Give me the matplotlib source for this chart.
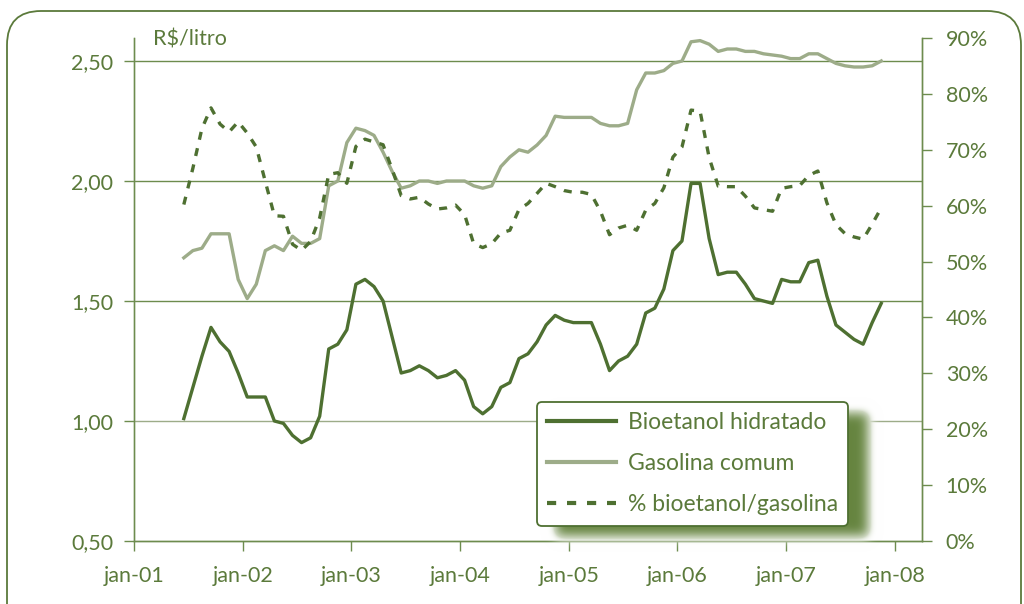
import numpy as np
import pandas as pd
import matplotlib
matplotlib.use('Agg')
import matplotlib.pyplot as plt
from matplotlib.patches import FancyBboxPatch
from matplotlib.lines import Line2D
from matplotlib.transforms import IdentityTransform

# precos medios mensais ao consumidor (R$/litro), jun-01 a nov-07
meses = pd.date_range('2001-06-01', periods=78, freq='MS')

bioetanol = [1.01, 1.14, 1.27, 1.39, 1.33, 1.29, 1.20, 1.10, 1.10, 1.10,
             1.00, 0.99, 0.94, 0.91, 0.93, 1.02, 1.30, 1.32, 1.38, 1.57,
             1.59, 1.56, 1.50, 1.35, 1.20, 1.21, 1.23, 1.21, 1.18, 1.19,
             1.21, 1.17, 1.06, 1.03, 1.06, 1.14, 1.16, 1.26, 1.28, 1.33,
             1.40, 1.44, 1.42, 1.41, 1.41, 1.41, 1.32, 1.21, 1.25, 1.27,
             1.32, 1.45, 1.47, 1.55, 1.71, 1.75, 1.99, 1.99, 1.76, 1.61,
             1.62, 1.62, 1.57, 1.51, 1.50, 1.49, 1.59, 1.58, 1.58, 1.66,
             1.67, 1.52, 1.40, 1.37, 1.34, 1.32, 1.41, 1.49]

gasolina = [1.68, 1.71, 1.72, 1.78, 1.78, 1.78, 1.59, 1.51, 1.57, 1.71,
            1.73, 1.71, 1.77, 1.74, 1.74, 1.76, 1.98, 2.00, 2.16, 2.22,
            2.21, 2.19, 2.12, 2.04, 1.97, 1.98, 2.00, 2.00, 1.99, 2.00,
            2.00, 2.00, 1.98, 1.97, 1.98, 2.06, 2.10, 2.13, 2.12, 2.15,
            2.19, 2.27, 2.265, 2.265, 2.265, 2.265, 2.24, 2.23, 2.23, 2.24,
            2.38, 2.45, 2.45, 2.46, 2.49, 2.50, 2.58, 2.585, 2.57, 2.54,
            2.55, 2.55, 2.54, 2.54, 2.53, 2.525, 2.52, 2.51, 2.51, 2.53,
            2.53, 2.51, 2.49, 2.48, 2.475, 2.475, 2.48, 2.50]

# relacao bioetanol/gasolina (%)
relacao = [60.2, 66.7, 73.8, 77.5, 74.6, 73.2, 75.0, 73.0, 70.5, 64.3,
           58.2, 58.1, 53.1, 52.0, 53.6, 57.8, 65.6, 65.9, 64.0, 70.6,
           71.9, 71.4, 70.9, 66.5, 61.8, 61.2, 61.5, 60.3, 59.4, 59.6,
           60.1, 58.4, 53.2, 52.5, 53.2, 55.1, 55.6, 59.3, 60.4, 62.2,
           64.0, 63.4, 62.7, 62.4, 62.4, 62.0, 59.0, 54.8, 56.0, 56.5,
           55.6, 59.2, 60.4, 63.2, 68.7, 70.5, 77.1, 76.9, 68.6, 63.5,
           63.4, 63.4, 61.7, 59.6, 59.3, 59.0, 63.1, 63.4, 63.6, 65.4,
           66.2, 60.5, 56.6, 55.0, 54.4, 54.0, 56.7, 59.6]

anos = ['jan-01', 'jan-02', 'jan-03', 'jan-04', 'jan-05', 'jan-06', 'jan-07', 'jan-08']
ticks_preco = [0.5, 1.0, 1.5, 2.0, 2.5]
rotulos_preco = ['0,50', '1,00', '1,50', '2,00', '2,50']
ticks_pct = list(range(0, 100, 10))

verde = '#4e7031'
verde_claro = '#9dac89'
verde_txt = '#5b7a3b'
verde_grade = '#6d8c4e'

plt.rcParams['font.family'] = ['Lato', 'DejaVu Sans']
plt.rcParams['font.size'] = 15.5

x = (meses.year - 2001) * 12 + meses.month - 1 + 0.5

fig = plt.figure(figsize=(10.24, 6.04), dpi=100)
ax = fig.add_axes([134 / 1024, 63 / 604, 788 / 1024, 503 / 604])
ax2 = ax.twinx()

for y in ticks_preco[1:]:
    cor = verde_claro if y == 1.0 else verde_grade
    ax.axhline(y, color=cor, lw=1.0, zorder=1)

ax.plot(x, gasolina, color=verde_claro, lw=2.4, solid_joinstyle='round', zorder=3)
ax.plot(x, bioetanol, color=verde, lw=2.4, solid_joinstyle='round', zorder=3)
ax2.plot(x, relacao, color=verde, lw=2.4, dashes=(2.4, 2.6))

ax.set_xlim(0, 87)
ax.set_ylim(0.5, 0.5 + 503 / 240)
ax2.set_ylim(0, 90)

ax.set_xticks(range(0, 96, 12))
ax.set_xticklabels(anos)
ax.set_yticks(ticks_preco)
ax.set_yticklabels(rotulos_preco)
ax2.set_yticks(ticks_pct)
ax2.set_yticklabels([f'{p}%' for p in ticks_pct])

for a in (ax, ax2):
    for s in a.spines.values():
        s.set_color(verde_grade)
        s.set_linewidth(1.0)
    a.spines['top'].set_visible(False)
    a.tick_params(colors=verde_grade, labelcolor=verde_txt, length=7, width=1.0)
ax.spines['left'].set_color('#8ba073')
ax.tick_params(axis='y', pad=8)
ax.tick_params(axis='x', pad=11)
ax2.tick_params(axis='y', pad=10)

fig.text(153 / 1024, 1 - 45 / 604, 'R$/litro', color=verde_txt, va='baseline', ha='left')

# moldura arredondada em volta do grafico
moldura = FancyBboxPatch((7, -40), 1014, 633, boxstyle='round,pad=0,rounding_size=34',
                         transform=IdentityTransform(), fill=False,
                         edgecolor=verde_txt, lw=1.3)
fig.add_artist(moldura)

# sombra desfocada da legenda
x0, y0, w, h = 520, 385, 380, 180
sx0, sx1, sy0, sy1 = 556, 868, 413, 536
m = np.zeros((h, w))
m[sy0 - y0:sy1 - y0, sx0 - x0:sx1 - x0] = 1.0
k = np.exp(-0.5 * (np.arange(-20, 21) / 5.5) ** 2)
k /= k.sum()
m = np.apply_along_axis(lambda r: np.convolve(r, k, mode='same'), 1, m)
m = np.apply_along_axis(lambda c: np.convolve(c, k, mode='same'), 0, m)
sombra = np.ones((h, w, 4))
base = np.array([0.40, 0.52, 0.25])
for c in range(3):
    sombra[..., c] = 1.0 * (1 - m) + base[c] * m
sombra[..., 3] = np.clip(m * 3, 0, 1)
fig.figimage(sombra, xo=x0, yo=604 - (y0 + h), origin='upper', zorder=4)

handles = [Line2D([], [], color=verde, lw=3.0),
           Line2D([], [], color=verde_claro, lw=3.0),
           Line2D([], [], color=verde, lw=3.0, dashes=(2.2, 2.6))]
leg = fig.legend(handles, ['Bioetanol hidratado', 'Gasolina comum', '% bioetanol/gasolina'],
                 loc='upper left', bbox_to_anchor=(537 / 1024, 1 - 402 / 604),
                 borderaxespad=0, fancybox=True, framealpha=1, facecolor='white',
                 edgecolor=verde, handlelength=3.0, handletextpad=0.5,
                 labelspacing=0.87, borderpad=0.45, labelcolor=verde_txt,
                 fontsize=16.5)
leg.get_frame().set_linewidth(1.3)
leg.set_zorder(6)

fig.savefig('out.png', dpi=100, facecolor='white')
